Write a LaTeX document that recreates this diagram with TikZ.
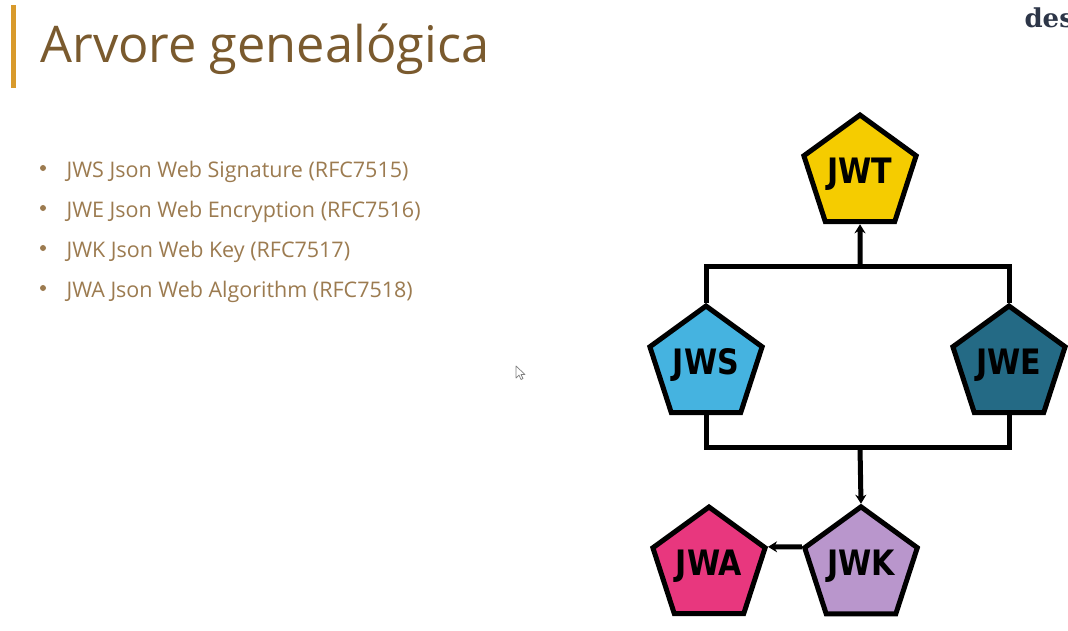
\documentclass[tikz,border=0pt]{standalone}
\usepackage{fontspec}
\setmainfont{Open Sans}
\newfontfamily\badgefont{DejaVu Sans}[FakeStretch=0.86]
\newfontfamily\brandfont{DejaVu Serif}
\usetikzlibrary{shapes.geometric,arrows.meta}
\definecolor{titlebrown}{HTML}{7A5A2E}
\definecolor{itembrown}{HTML}{9C7B50}
\definecolor{accentbar}{HTML}{D89A2C}
\definecolor{brandnavy}{HTML}{2D3648}
\definecolor{jwtfill}{HTML}{F5CC00}
\definecolor{jwsfill}{HTML}{45B3E0}
\definecolor{jwefill}{HTML}{246A85}
\definecolor{jwafill}{HTML}{E8377E}
\definecolor{jwkfill}{HTML}{B996CC}
\begin{document}
\begin{tikzpicture}[x=1pt,y=-1pt,
  badge/.style={regular polygon, regular polygon sides=5, minimum size=118pt,
    draw=black, line width=5pt, line join=miter, inner sep=0pt, text=black,
    font=\badgefont\bfseries\fontsize{35}{35}\selectfont},
  link/.style={draw=black, line width=5pt, line join=miter},
  arrowlink/.style={link, -{Stealth[length=9pt,width=11pt]}},
  item/.style={anchor=base west, text=itembrown, font=\fontsize{21.5}{21.5}\selectfont},
  dot/.style={circle, fill=itembrown, inner sep=0pt, minimum size=6pt}]
\clip (0,0) rectangle (1068,630);
\fill[white] (0,0) rectangle (1068,630);

% heading with accent bar
\fill[accentbar] (11,5) rectangle (16,88);
\node[anchor=base west, text=titlebrown, font=\fontsize{50.5}{50.5}\selectfont] (title) at (37,62) {Arvore genealógica};
\node[anchor=base west, text=brandnavy, font=\brandfont\bfseries\fontsize{26}{26}\selectfont] (brand) at (1021,27) {des};

% bullet list
\node[dot] (d1) at (43,168) {};
\node[item] (i1) at (63,177) {JWS Json Web Signature (RFC7515)};
\node[dot] (d2) at (43,208) {};
\node[item] (i2) at (63,217) {JWE Json Web Encryption (RFC7516)};
\node[dot] (d3) at (43,248) {};
\node[item] (i3) at (63,257) {JWK Json Web Key (RFC7517)};
\node[dot] (d4) at (43,288) {};
\node[item] (i4) at (63,297) {JWA Json Web Algorithm (RFC7518)};

% mouse pointer
\filldraw[fill=white, draw=gray, line width=0.7pt, line join=round]
  (516,366) -- (516,378) -- (519,375) -- (521,379.5) -- (523,378.5) -- (521,374.5) -- (525,374.5) -- cycle;

% pentagon badges
\node[badge, fill=jwtfill] (jwt) at (860,174) {JWT};
\node[badge, fill=jwsfill] (jws) at (706,365) {JWS};
\node[badge, fill=jwefill] (jwe) at (1009,365) {JWE};
\node[badge, fill=jwafill] (jwa) at (709,566) {JWA};
\node[badge, fill=jwkfill] (jwk) at (861,566) {JWK};

% junction points of the connector bars
\coordinate (topbar) at (860,266);
\coordinate (botbar) at (860,447);

% connectors
\draw[link] (jws.corner 1) -- (jws.corner 1 |- topbar) -- (jwe.corner 1 |- topbar) -- (jwe.corner 1);
\draw[arrowlink] (topbar) -- (jwt.south);
\draw[link] (jws.south) -- (jws.south |- botbar) -- (jwe.south |- botbar) -- (jwe.south);
\draw[arrowlink] (botbar) -- (jwk.corner 1);
\draw[arrowlink] (jwk.corner 2) -- (jwa.corner 5);
\end{tikzpicture}
\end{document}
